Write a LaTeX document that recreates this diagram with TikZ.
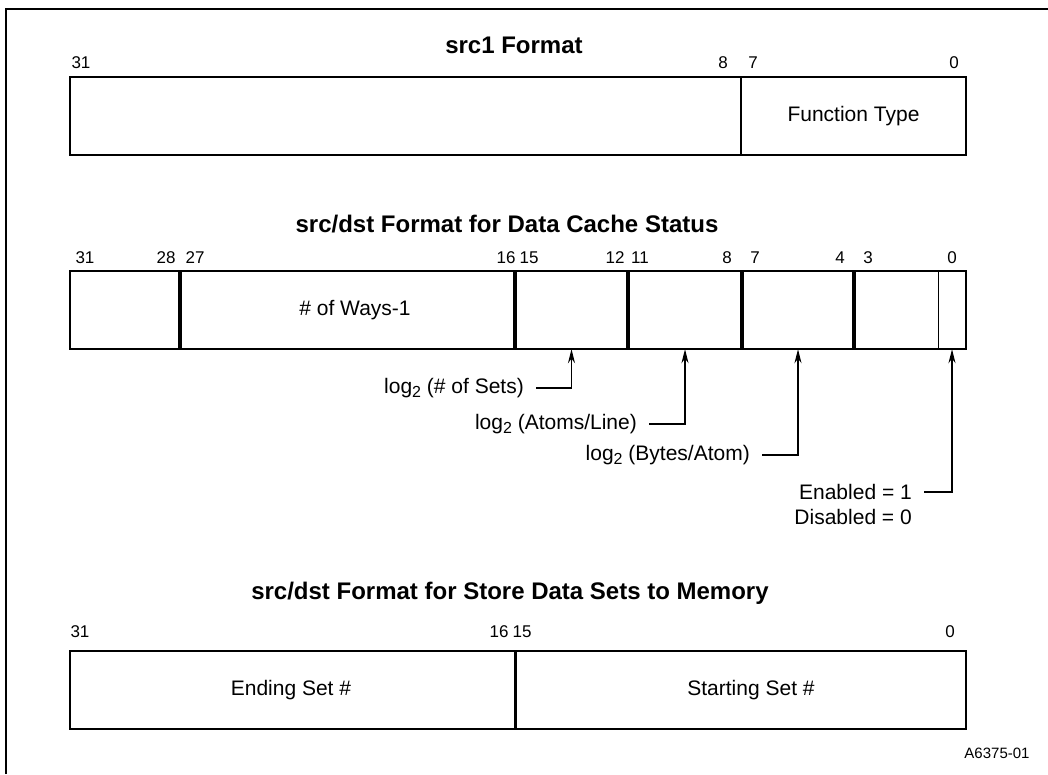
\documentclass[tikz,border=0pt]{standalone}
\usepackage{fontspec}
\setmainfont{Liberation Sans}
\usetikzlibrary{arrows.meta}
\newcommand{\logtwo}{log\raisebox{-0.35ex}{\fontsize{16}{16}\selectfont 2}}
\begin{document}
\begin{tikzpicture}[x=1pt,y=-1pt,
  title/.style={font=\fontsize{24}{28}\selectfont\bfseries, inner sep=0},
  bitno/.style={font=\fontsize{17}{20}\selectfont, inner sep=0},
  note/.style={font=\fontsize{21}{25}\selectfont, inner sep=0},
  field/.style={minimum height=78pt, inner sep=0, font=\fontsize{21}{25}\selectfont},
  outline/.style={line width=2pt},
  heavy/.style={line width=4pt},
  medium/.style={line width=3pt},
  light/.style={line width=1.2pt},
  pointer/.style={line width=1.2pt, -{Stealth[length=14pt,width=7pt]}},
]
\useasboundingbox (0,0) rectangle (1048,774);
% page frame
\draw[line width=1.5pt] (6,774) -- (6,9) -- (1048,9);

% ---------- src1 format ----------
\node[title] (t1) at (514,45) {src1 Format};
\node[field, minimum width=671pt] (a1) at (405.5,116) {};
\node[field, minimum width=225pt] (a2) at (853.5,116) {Function Type};
\draw[outline] (a1.north west) rectangle (a2.south east);
\draw[outline] (a1.north east) -- (a1.south east);
\node[bitno] (a31) at (81,63) {31};
\node[bitno] (a8)  at (723,63) {8};
\node[bitno] (a7)  at (753,63) {7};
\node[bitno] (a0)  at (954,63) {0};

% ---------- data cache status ----------
\node[title] (t2) at (507,224) {src/dst Format for Data Cache Status};
\node[field, minimum width=110pt] (b1) at (125,310) {};
\node[field, minimum width=335pt] (b2) at (347.5,310) {};
\node[field, minimum width=113pt] (b3) at (571.5,310) {};
\node[field, minimum width=114pt] (b4) at (685,310) {};
\node[field, minimum width=112pt] (b5) at (798,310) {};
\node[field, minimum width=84pt]  (b6) at (896,310) {};
\node[field, minimum width=28pt]  (b7) at (952,310) {};
\node[note] (ways) at (355,310) {\# of Ways-1};
\draw[outline] (b1.north west) rectangle (b7.south east);
\foreach \f in {b1,b2,b3,b4,b5}
  \draw[heavy] (\f.north east) -- (\f.south east);
\draw[light] (b6.north east) -- (b6.south east);
\node[bitno] (b31) at (85,258) {31};
\node[bitno] (b28) at (166,258) {28};
\node[bitno] (b27) at (195,258) {27};
\node[bitno] (b16) at (506,258) {16};
\node[bitno] (b15) at (529,258) {15};
\node[bitno] (b12) at (615,258) {12};
\node[bitno] (b11) at (640,258) {11};
\node[bitno] (bb8) at (727,258) {8};
\node[bitno] (bb7) at (755,258) {7};
\node[bitno] (bb4) at (840,258) {4};
\node[bitno] (bb3) at (868,258) {3};
\node[bitno] (bb0) at (952,258) {0};

% field legends
\node[note, anchor=east] (sets)  at (524,388) {\logtwo{} (\# of Sets)};
\node[note, anchor=east] (atoms) at (637,424) {\logtwo{} (Atoms/Line)};
\node[note, anchor=east] (bytes) at (750,455) {\logtwo{} (Bytes/Atom)};
\node[note, anchor=east] (en)    at (912,492) {Enabled = 1};
\node[note, anchor=east] (dis)   at (912,517) {Disabled = 0};
\draw[pointer] ([xshift=12pt]sets.east)  -| (b3.south);
\draw[pointer] ([xshift=12pt]atoms.east) -| (b4.south);
\draw[pointer] ([xshift=12pt]bytes.east) -| (b5.south);
\draw[pointer] ([xshift=12pt]en.east)    -| (b7.south);

% ---------- store data sets to memory ----------
\node[title] (t3) at (510,593) {src/dst Format for Store Data Sets to Memory};
\node[field, minimum width=445pt] (c1) at (292.5,690) {};
\node[field, minimum width=451pt] (c2) at (740.5,690) {};
\node[note] (ending)   at (291,690) {Ending Set \#};
\node[note] (starting) at (751,690) {Starting Set \#};
\draw[outline] (c1.north west) rectangle (c2.south east);
\draw[medium] (c1.north east) -- (c1.south east);
\node[bitno] (c31) at (80,632) {31};
\node[bitno] (c16) at (499,632) {16};
\node[bitno] (c15) at (522,632) {15};
\node[bitno] (c0)  at (950,632) {0};

\node[font=\fontsize{15}{18}\selectfont, inner sep=0] (ref) at (997,753) {A6375-01};
\end{tikzpicture}
\end{document}
